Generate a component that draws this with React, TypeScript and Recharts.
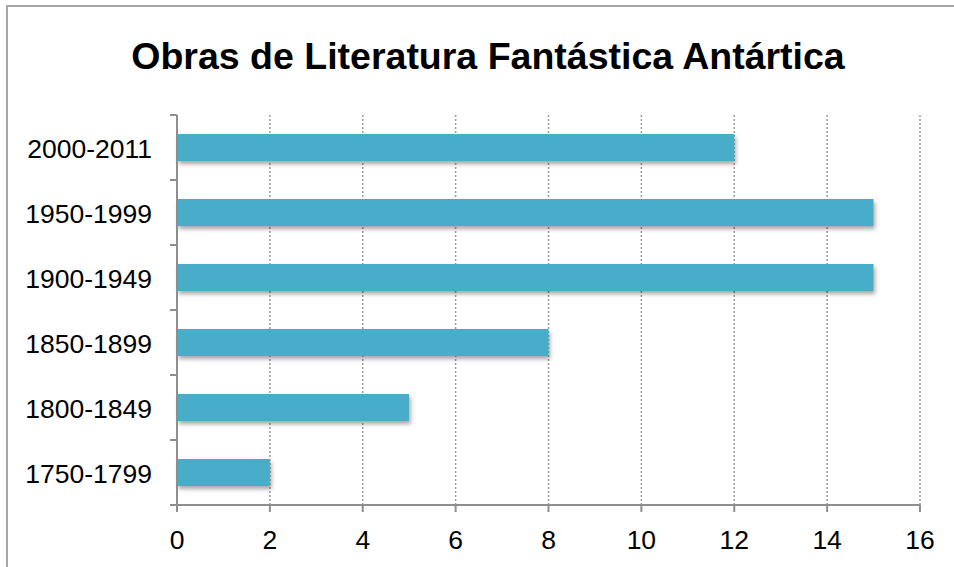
import { BarChart, Bar, XAxis, YAxis, CartesianGrid } from 'recharts';

const periods = ['2000-2011', '1950-1999', '1900-1949', '1850-1899', '1800-1849', '1750-1799'];
const obras = [12, 15, 15, 8, 5, 2];
const xTicks = [0, 2, 4, 6, 8, 10, 12, 14, 16];

const data = periods.map((name, i) => ({ name, value: obras[i] }));

const W = 954;
const H = 567;
const X_AXIS_H = 30;
const margin = { top: 115, right: 34, bottom: 32, left: 0 };
const band = (H - margin.top - margin.bottom - X_AXIS_H) / periods.length;
const axisColor = '#8e8e8e';
const font = '"Liberation Sans", Arial, sans-serif';

// etiqueta centrada + marca de división entre categorías (como en Excel)
const PeriodTick = ({ x, y, payload, index }: any) => {
  const axisX = x + 25;
  return (
    <g>
      <text x={x} y={y} dy="0.4em" textAnchor="end" fontSize={26.5} fill="#000" fontFamily={font}>
        {payload.value}
      </text>
      {index === 0 && (
        <line x1={axisX - 7} x2={axisX} y1={y - band / 2} y2={y - band / 2} stroke={axisColor} strokeWidth={2} />
      )}
      <line x1={axisX - 7} x2={axisX} y1={y + band / 2} y2={y + band / 2} stroke={axisColor} strokeWidth={2} />
    </g>
  );
};

export default function App() {
  return (
    <div style={{ position: 'absolute', left: 0, top: 0, width: W, height: H, background: '#fff', overflow: 'hidden' }}>
      <div
        style={{
          position: 'absolute',
          left: 6,
          top: 5,
          width: 970,
          height: 600,
          border: '2px solid #a6a6a6',
          boxSizing: 'border-box',
        }}
      />
      <div
        style={{
          position: 'absolute',
          left: 0,
          top: 34,
          width: 976,
          textAlign: 'center',
          fontFamily: font,
          fontWeight: 'bold',
          fontSize: 37.5,
          lineHeight: '44px',
          color: '#000',
        }}
      >
        Obras de Literatura Fantástica Antártica
      </div>
      <div style={{ position: 'absolute', left: 0, top: 0 }}>
        <BarChart width={W} height={H} data={data} layout="vertical" margin={margin}>
          <defs>
            <filter id="barShadow" x="-5%" y="-30%" width="115%" height="190%">
              <feDropShadow dx="1.5" dy="3" stdDeviation="2" floodColor="#000" floodOpacity="0.35" />
            </filter>
          </defs>
          <CartesianGrid horizontal={false} stroke="#9a9a9a" strokeDasharray="2 2" strokeWidth={1.5} />
          <XAxis
            type="number"
            domain={[0, 16]}
            ticks={xTicks}
            interval={0}
            height={X_AXIS_H}
            stroke={axisColor}
            strokeWidth={2}
            tickSize={7}
            tickMargin={18}
            tick={{ fontSize: 26.5, fill: '#000', fontFamily: font }}
          />
          <YAxis
            type="category"
            dataKey="name"
            width={177}
            stroke={axisColor}
            strokeWidth={2}
            tickLine={false}
            tickSize={7}
            tickMargin={18}
            tick={<PeriodTick />}
          />
          <Bar dataKey="value" fill="#46adc8" barSize={27} filter="url(#barShadow)" isAnimationActive={false} />
        </BarChart>
      </div>
    </div>
  );
}
